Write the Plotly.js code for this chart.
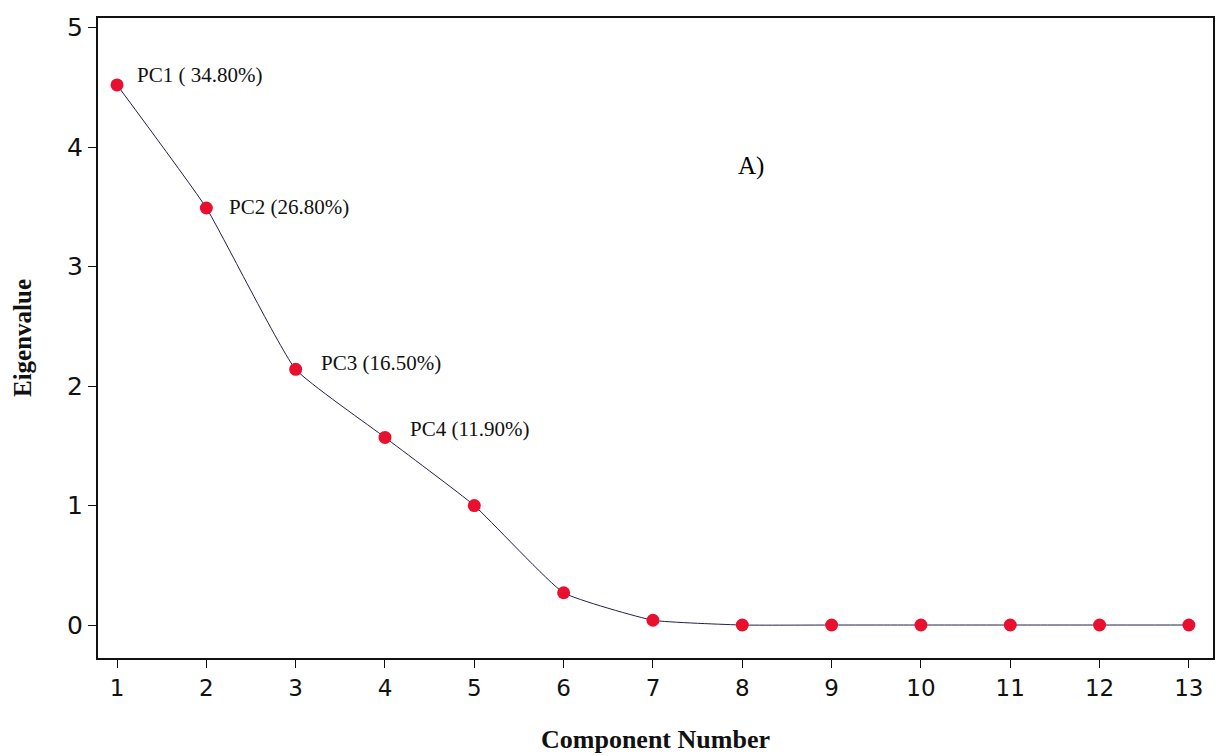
<!DOCTYPE html>
<html>
<head>
<meta charset="utf-8">
<script src="https://cdn.plot.ly/plotly-3.0.1.min.js"></script>
<style>html,body{margin:0;padding:0;background:#fff;}#chart{width:1225px;height:756px;}</style>
</head>
<body>
<div id="chart"></div>
<script>
const components = [1,2,3,4,5,6,7,8,9,10,11,12,13];
const eigenvalues = [4.52,3.49,2.14,1.57,1.00,0.27,0.04,0.0,0.0,0.0,0.0,0.0,0.0];
const pcLabels = ["PC1 ( 34.80%)","PC2 (26.80%)","PC3 (16.50%)","PC4 (11.90%)"];
const labelX = [1.2,2.23,3.26,4.26];
const labelY = [4.6,3.5,2.19,1.64];

const trace = {
  x: components, y: eigenvalues, type: 'scatter', mode: 'lines+markers',
  line: {color: '#20204a', width: 1, shape: 'spline', smoothing: 0.4},
  marker: {color: '#e8102e', size: 13},
  hoverinfo: 'x+y'
};

const annotations = pcLabels.map((t,i)=>({
  x: labelX[i], y: labelY[i], xref:'x', yref:'y', text: t, showarrow:false,
  xanchor:'left', yanchor:'middle',
  font:{family:'Liberation Serif, Times New Roman, serif', size:21, color:'#111'}
}));
annotations.push({x:8.1, y:3.84, xref:'x', yref:'y', text:'A)', showarrow:false,
  xanchor:'center', yanchor:'middle',
  font:{family:'Liberation Serif, Times New Roman, serif', size:25, color:'#000'}});

const layout = {
  width:1225, height:756,
  margin:{l:98, r:12, t:18, b:98},
  paper_bgcolor:'#fff', plot_bgcolor:'#fff',
  showlegend:false,
  xaxis:{
    range:[0.787,13.27], tickvals:components, ticktext:components.map(String),
    showgrid:false, zeroline:false, showline:true, linecolor:'#111', linewidth:2,
    mirror:true, ticks:'outside', ticklen:8, tickcolor:'#111', tickwidth:1,
    tickfont:{family:'DejaVu Sans, Verdana, sans-serif', size:23, color:'#111'},
    title:{text:'<b>Component Number</b>', standoff:30,
      font:{family:'Liberation Serif, Times New Roman, serif', size:26, color:'#111'}}
  },
  yaxis:{
    range:[-0.276,5.08], tickvals:[0,1,2,3,4,5],
    showgrid:false, zeroline:false, showline:true, linecolor:'#111', linewidth:2,
    mirror:true, ticks:'outside', ticklen:8, tickcolor:'#111', tickwidth:1,
    tickfont:{family:'DejaVu Sans, Verdana, sans-serif', size:25, color:'#111'},
    title:{text:'<b>Eigenvalue</b>', standoff:28,
      font:{family:'Liberation Serif, Times New Roman, serif', size:25, color:'#111'}}
  },
  annotations: annotations
};

Plotly.newPlot('chart',[trace],layout,{displayModeBar:false, staticPlot:true});
</script>
</body>
</html>
